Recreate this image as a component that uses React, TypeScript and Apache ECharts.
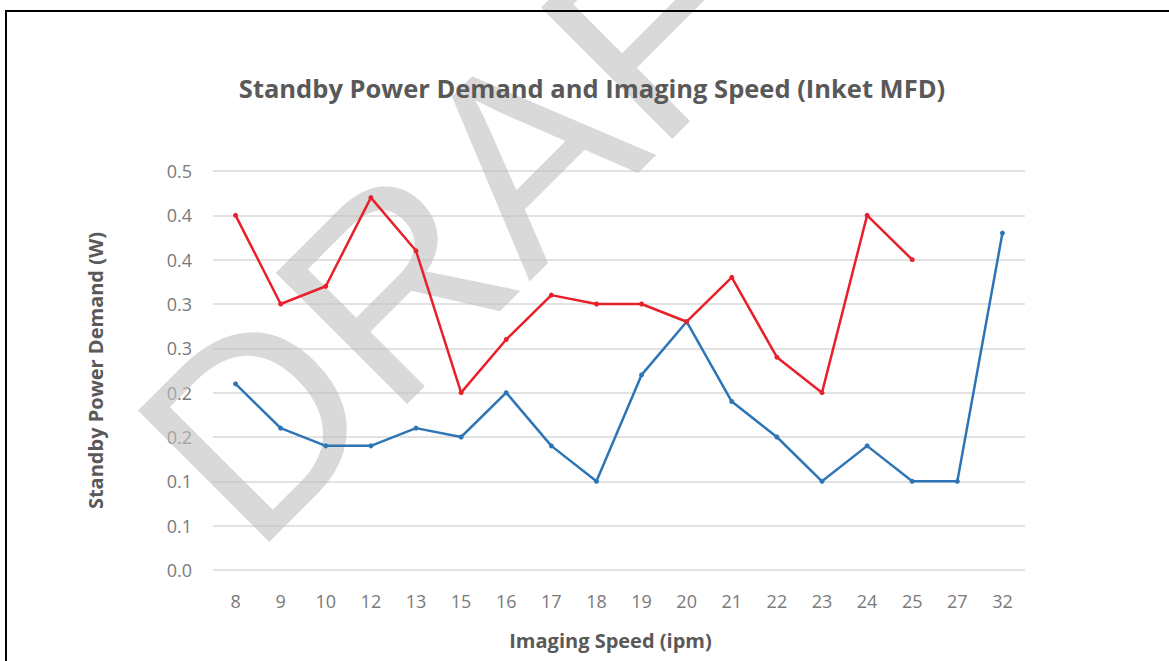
import React, { useEffect, useRef } from "react";
import * as echarts from "echarts";

// Imaging speed categories (ipm)
const speeds: string[] = ["8", "9", "10", "12", "13", "15", "16", "17", "18", "19", "20", "21", "22", "23", "24", "25", "27", "32"];

// Standby power demand (W) for the two product groups
const seriesBlue: (number | null)[] = [0.21, 0.16, 0.14, 0.14, 0.16, 0.15, 0.2, 0.14, 0.1, 0.22, 0.28, 0.19, 0.15, 0.1, 0.14, 0.1, 0.1, 0.38];
const seriesRed: (number | null)[] = [0.4, 0.3, 0.32, 0.42, 0.36, 0.2, 0.26, 0.31, 0.3, 0.3, 0.28, 0.33, 0.24, 0.2, 0.4, 0.35, null, null];

// Value axis tick labels, one decimal place
const yTickLabels: string[] = ["0.0", "0.1", "0.1", "0.2", "0.2", "0.3", "0.3", "0.4", "0.4", "0.5"];
const yStep = 0.05;

const FONT = "'Open Sans', 'Noto Sans', sans-serif";

export default function App() {
  const ref = useRef<HTMLDivElement>(null);

  useEffect(() => {
    if (!ref.current) return;
    const chart = echarts.init(ref.current, undefined, { renderer: "svg" });
    chart.setOption({
      animation: false,
      backgroundColor: "#ffffff",
      grid: { left: 213, right: 144, top: 171, bottom: 91, containLabel: false },
      xAxis: {
        type: "category",
        data: speeds,
        boundaryGap: true,
        axisLine: { show: false },
        axisTick: { show: false },
        axisLabel: { color: "#7a7a7a", fontSize: 18, fontFamily: FONT, margin: 22, interval: 0 },
        name: "Imaging Speed (ipm)",
        nameLocation: "middle",
        nameGap: 60,
        nameTextStyle: {
          color: "#595959",
          fontSize: 20,
          fontWeight: "bold",
          fontFamily: FONT,
          padding: [0, 17, 0, 0],
        },
      },
      yAxis: {
        type: "value",
        min: 0,
        max: yStep * (yTickLabels.length - 1),
        interval: yStep,
        axisLine: { show: false },
        axisTick: { show: false },
        splitLine: { lineStyle: { color: "#d9d9d9", width: 1.5 } },
        axisLabel: {
          color: "#7a7a7a",
          fontSize: 18,
          fontFamily: FONT,
          margin: 21,
          formatter: (v: number) => yTickLabels[Math.round(v / yStep)] ?? "",
        },
        name: "Standby Power Demand (W)",
        nameLocation: "middle",
        nameRotate: 90,
        nameGap: 108,
        nameTextStyle: { color: "#595959", fontSize: 20, fontWeight: "bold", fontFamily: FONT },
      },
      series: [
        {
          type: "line",
          data: seriesBlue,
          color: "#2e75b6",
          lineStyle: { width: 2.5, color: "#2e75b6" },
          symbol: "circle",
          symbolSize: 5,
          itemStyle: { color: "#2e75b6" },
          z: 3,
        },
        {
          type: "line",
          data: seriesRed,
          color: "#e8202a",
          lineStyle: { width: 2.5, color: "#e8202a" },
          symbol: "circle",
          symbolSize: 5,
          itemStyle: { color: "#e8202a" },
          connectNulls: false,
          z: 3,
        },
      ],
      graphic: [
        {
          type: "text",
          x: 92,
          y: 396,
          rotation: Math.PI / 4,
          z: 1,
          silent: true,
          style: {
            text: "DRAFT",
            font: "270px 'Liberation Sans', Arial, sans-serif",
            fill: "#c0c0c0",
            opacity: 0.6,
            align: "left",
            verticalAlign: "top",
          },
        },
        {
          type: "text",
          x: 592,
          y: 88,
          z: 5,
          style: {
            text: "Standby Power Demand and Imaging Speed (Inket MFD)",
            font: `bold 25.5px ${FONT}`,
            fill: "#595959",
            align: "center",
            verticalAlign: "middle",
          },
        },
        {
          type: "rect",
          z: 5,
          silent: true,
          shape: { x: 6, y: 11, width: 1400, height: 900 },
          style: { fill: "none", stroke: "#000000", lineWidth: 2 },
        },
      ],
    });
    return () => chart.dispose();
  }, []);

  return (
    <div
      ref={ref}
      style={{ position: "fixed", left: 0, top: 0, width: 1169, height: 661, background: "#fff" }}
    />
  );
}
